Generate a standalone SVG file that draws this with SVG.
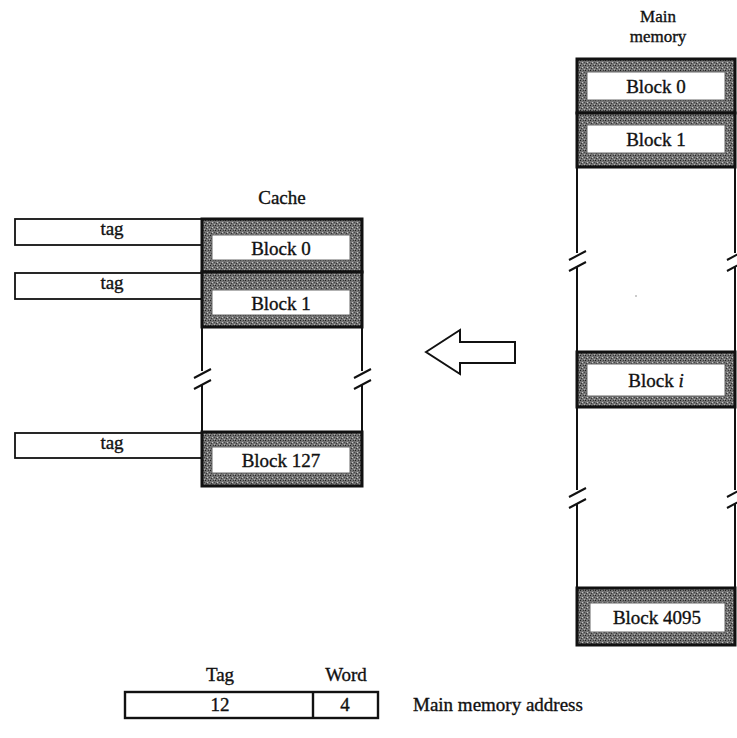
<svg xmlns="http://www.w3.org/2000/svg" width="737" height="738" viewBox="0 0 737 738">
<style>
text{font-family:"Liberation Serif","DejaVu Serif",serif;fill:#111;stroke:#111;stroke-width:0.35;text-anchor:middle}
.lbl{font-size:19px}
.sm{font-size:17px}
.blk{font-size:19px}
.shade{fill:url(#stip);stroke:#111;stroke-width:3}
.inner{fill:#fff;stroke:#666;stroke-width:1}
.line{stroke:#111;stroke-width:2;fill:none}
.box{fill:#fff;stroke:#111;stroke-width:1.8}
</style>
<defs>
<pattern id="stip" width="5" height="5" patternUnits="userSpaceOnUse">
<rect width="5" height="5" fill="#747474"/>
<rect x="0" y="0" width="1" height="1" fill="#222"/>
<rect x="2" y="2" width="1" height="1" fill="#c8c8c8"/>
<rect x="3" y="0" width="1" height="1" fill="#3a3a3a"/>
<rect x="1" y="3" width="1" height="1" fill="#333"/>
<rect x="4" y="4" width="1" height="1" fill="#b0b0b0"/>
<rect x="4" y="2" width="1" height="1" fill="#444"/>
</pattern>
</defs>

<!-- Cache -->
<g id="cache">
<text class="lbl" x="282" y="204">Cache</text>
<path class="line" d="M202,327 V371 M202,385 V432 M362,327 V371 M362,385 V432"/>
<path class="line" d="M194,378 L211,369 M194,389 L211,380 M354,378 L371,369 M354,389 L371,380"/>
</g>
<g id="tag0"><rect class="box" x="15" y="219" width="187" height="26"/><text class="lbl" x="112" y="235">tag</text></g>
<g id="tag1"><rect class="box" x="15" y="273" width="187" height="26"/><text class="lbl" x="112" y="289">tag</text></g>
<g id="tag127"><rect class="box" x="15" y="433" width="187" height="25"/><text class="lbl" x="112" y="449">tag</text></g>
<g id="cache-block0"><rect class="shade" x="202" y="219" width="160" height="53"/><rect class="inner" x="212" y="235" width="138" height="25"/><text class="blk" x="281" y="255">Block 0</text></g>
<g id="cache-block1"><rect class="shade" x="202" y="272" width="160" height="55"/><rect class="inner" x="212" y="290" width="138" height="25"/><text class="blk" x="281" y="310">Block 1</text></g>
<g id="cache-block127"><rect class="shade" x="202" y="432" width="160" height="54"/><rect class="inner" x="212" y="447" width="138" height="26"/><text class="blk" x="281" y="467">Block 127</text></g>

<!-- Main memory -->
<g id="main-memory">
<text class="sm" x="658" y="22">Main</text>
<text class="sm" x="658" y="42">memory</text>
<path class="line" d="M577,167 V253 M577,267 V352 M735,167 V253 M735,267 V352"/>
<path class="line" d="M569,260 L586,251 M569,271 L586,262 M727,260 L744,251 M727,271 L744,262"/>
<path class="line" d="M577,407 V490 M577,504 V588 M735,407 V490 M735,504 V588"/>
<path class="line" d="M569,497 L586,488 M569,508 L586,499 M727,497 L744,488 M727,508 L744,499"/>
<circle cx="636" cy="296" r="0.8" fill="#888"/>
</g>
<g id="mm-block0"><rect class="shade" x="577" y="59" width="158" height="54"/><rect class="inner" x="587" y="72" width="138" height="28"/><text class="blk" x="656" y="93">Block 0</text></g>
<g id="mm-block1"><rect class="shade" x="577" y="113" width="158" height="54"/><rect class="inner" x="587" y="125" width="138" height="28"/><text class="blk" x="656" y="146">Block 1</text></g>
<g id="mm-blocki"><rect class="shade" x="577" y="352" width="158" height="55"/><rect class="inner" x="587" y="364" width="138" height="32"/><text class="blk" x="656" y="387">Block <tspan font-style="italic">i</tspan></text></g>
<g id="mm-block4095"><rect class="shade" x="577" y="588" width="158" height="57"/><rect class="inner" x="590" y="603" width="135" height="29"/><text class="blk" x="657" y="624">Block 4095</text></g>

<!-- Address format -->
<g id="address">
<text class="lbl" x="220" y="681">Tag</text>
<text class="lbl" x="346" y="681">Word</text>
<rect class="box" x="125" y="692" width="253" height="26" style="stroke-width:2.4"/>
<line class="line" x1="313" y1="692" x2="313" y2="718" style="stroke-width:2.4"/>
<text class="lbl" x="220" y="711">12</text>
<text class="lbl" x="345" y="711">4</text>
<text class="lbl" x="413" y="711" style="text-anchor:start">Main memory address</text>
</g>

<g id="connectors">
<polygon points="426,352 460,330 460,342 515,342 515,363 460,363 460,374" fill="#fff" stroke="#111" stroke-width="2" stroke-linejoin="miter"/>
</g>
</svg>
